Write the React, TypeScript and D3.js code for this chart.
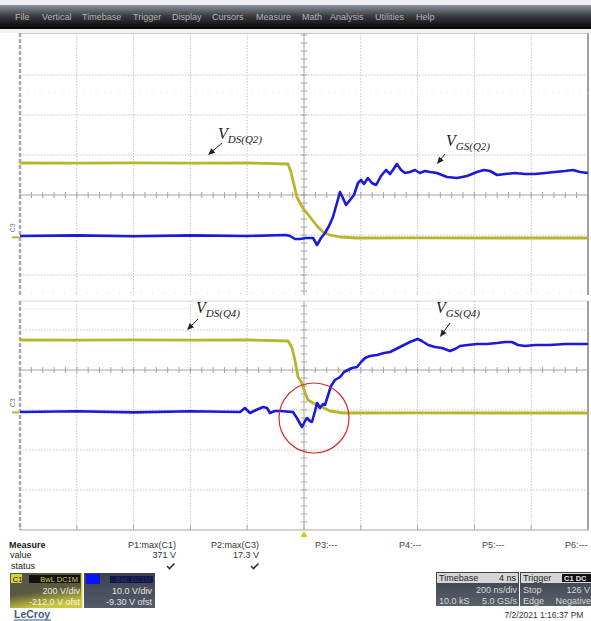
import React from "react";
import * as d3 from "d3";

// ---------- data (time in ns, voltage in V) ----------
const menuItems = ["File", "Vertical", "Timebase", "Trigger", "Display", "Cursors", "Measure", "Math", "Analysis", "Utilities", "Help"];

// Panel 1 : Q2
const q2Vds: [number, number][] = [
  [-1000, 372], [-800, 371], [-600, 373], [-400, 371], [-200, 372], [-56, 367], [-46, 327], [-35, 262], [-25, 202],
  [-14, 172], [-4, 147], [21, 102], [46, 57], [67, 27], [92, 12], [127, 2], [187, -3], [400, -2], [700, -3], [1000, -3],
];
const q2Vgs: [number, number][] = [
  [-1000, -0.95], [-800, -0.8], [-600, -1.0], [-400, -0.8], [-200, -0.95], [-63, -0.7], [-49, -0.95], [-32, -1.7], [-14, -1.7],
  [7, -1.45], [32, -1.45], [46, -3.2], [60, -1.45], [74, -0.2], [88, 1.55], [102, 3.8], [116, 7.3], [127, 10.05],
  [137, 8.55], [148, 6.8], [162, 8.05], [176, 9.3], [190, 12.3], [201, 13.05], [211, 12.05], [225, 13.55], [239, 12.3],
  [254, 11.8], [271, 14.05], [289, 15.55], [303, 14.55], [313, 15.55], [327, 17.05], [342, 15.55], [356, 14.8],
  [373, 15.05], [391, 15.55], [408, 14.8], [426, 15.3], [444, 15.05], [468, 14.8], [504, 13.8], [539, 13.55],
  [574, 14.05], [609, 15.05], [634, 15.55], [655, 15.3], [680, 14.3], [708, 14.55], [743, 14.8], [778, 14.55],
  [813, 14.55], [849, 14.8], [884, 15.05], [919, 15.3], [947, 15.55], [972, 15.05], [1000, 14.8],
];

// Panel 2 : Q4
const q4Vds: [number, number][] = [
  [-1000, 362], [-800, 361], [-600, 363], [-400, 361], [-200, 362], [-56, 357], [-42, 322], [-32, 262], [-21, 177],
  [-7, 147], [4, 97], [14, 62], [32, 47], [63, 27], [92, 7], [137, -3], [400, -2], [700, -3], [1000, -3],
];
const q4Vgs: [number, number][] = [
  [-1000, -1.2], [-800, -1.0], [-600, -1.3], [-400, -1.0], [-225, -1.2], [-208, -0.2], [-190, -1.45], [-169, -0.7],
  [-144, 0.05], [-130, -0.2], [-120, -1.45], [-102, -0.95], [-85, -0.95], [-39, -1.2], [-25, -2.7], [-7, -4.95],
  [4, -3.45], [11, -2.7], [21, -3.45], [28, -3.7], [39, -0.95], [46, 1.05], [56, -0.2], [67, 0.8], [74, 0.55],
  [85, 3.05], [95, 5.3], [109, 6.8], [127, 7.55], [141, 8.8], [155, 9.3], [169, 9.8], [187, 10.05], [201, 11.3],
  [215, 12.3], [232, 12.8], [257, 13.05], [282, 13.55], [303, 13.8], [324, 14.55], [345, 15.3], [373, 16.3],
  [391, 16.8], [401, 17.05], [415, 16.55], [437, 15.55], [461, 15.05], [486, 14.8], [514, 14.05], [532, 14.55],
  [549, 15.3], [577, 15.55], [609, 15.8], [644, 15.8], [680, 16.05], [708, 16.3], [732, 16.3], [754, 15.55],
  [778, 15.3], [813, 15.55], [866, 15.55], [919, 15.8], [972, 15.8], [1000, 15.8],
];

const measureNames = ["P1:max(C1)", "P2:max(C3)"];
const measureValues = ["371 V", "17.3 V"];
const emptyParams = ["P3:---", "P4:---", "P5:---", "P6:---"];

// ---------- styles ----------
const YELLOW = "#b8b52c";
const BLUE = "#1a1ad8";
const GRID = "#c4c4c4";
const UI = "'Liberation Sans', Arial, sans-serif";
const SERIF = "'Liberation Serif', 'DejaVu Serif', serif";

const X0 = 20, X1 = 588;
const x = d3.scaleLinear().domain([-1000, 1000]).range([X0, X1]);
const DIVX = (X1 - X0) / 10;

function Panel({ id, top, bottom, center, vds, vgs }: any) {
  const yY = d3.scaleLinear().domain([212 - 800, 212 + 800]).range([center + 160, center - 160]);
  const yB = d3.scaleLinear().domain([9.3 - 40, 9.3 + 40]).range([center + 160, center - 160]);
  const lineY = d3.line<[number, number]>().x(d => x(d[0])).y(d => yY(d[1]));
  const lineB = d3.line<[number, number]>().x(d => x(d[0])).y(d => yB(d[1]));
  const hLines: number[] = [];
  for (let k = -4; k <= 4; k++) {
    const yy = center + k * 40;
    if (yy > top + 2 && yy < bottom - 1 && k !== 0) hLines.push(yy);
  }
  const vLines = d3.range(1, 10).map(i => X0 + i * DIVX).filter(v => Math.abs(v - 304) > 1);
  const ticksX = d3.range(0, 51).map(i => X0 + i * DIVX / 5);
  const ticksY = d3.range(-40, 41).map(i => center + i * 8).filter(v => v > top && v < bottom);
  return (
    <g>
      <defs>
        <clipPath id={id}>
          <rect x={X0} y={top} width={X1 - X0} height={bottom - top} />
        </clipPath>
      </defs>
      {vLines.map((v, i) => (
        <line key={"v" + i} x1={v} x2={v} y1={top} y2={bottom} stroke={GRID} strokeWidth={1} strokeDasharray="1.5,1.5" />
      ))}
      {hLines.map((h, i) => (
        <line key={"h" + i} x1={X0} x2={X1} y1={h} y2={h} stroke={GRID} strokeWidth={1} strokeDasharray="1.5,1.5" />
      ))}
      {/* center axes */}
      <line x1={X0} x2={X1} y1={center} y2={center} stroke="#a4a4a4" strokeWidth={1} />
      <line x1={304} x2={304} y1={top} y2={bottom} stroke="#a4a4a4" strokeWidth={1} />
      {ticksX.map((t, i) => (
        <line key={"tx" + i} x1={t} x2={t} y1={center - 3} y2={center + 3} stroke="#a4a4a4" strokeWidth={1} />
      ))}
      {ticksY.map((t, i) => (
        <line key={"ty" + i} x1={301} x2={307} y1={t} y2={t} stroke="#a4a4a4" strokeWidth={1} />
      ))}
      {/* frame */}
      <line x1={X0} x2={X0} y1={top} y2={bottom} stroke="#a8a8a8" strokeWidth={2.5} strokeDasharray="4,2" />
      <line x1={X1} x2={X1} y1={top} y2={bottom} stroke="#a0a0a0" strokeWidth={2} />
      <g clipPath={`url(#${id})`}>
        <path d={lineY(vds) as string} fill="none" stroke={YELLOW} strokeWidth={2.8} strokeLinejoin="round" />
        <path d={lineB(vgs) as string} fill="none" stroke={BLUE} strokeWidth={2.6} strokeLinejoin="round" />
      </g>
      {/* channel markers on left */}
      <text x={0} y={0} transform={`translate(15,${yB(-1) - 4}) rotate(-90)`} fontFamily={UI} fontSize={7} fill="#777">C3</text>
      <line x1={12} x2={19} y1={yY(0)} y2={yY(0)} stroke={YELLOW} strokeWidth={2} />
    </g>
  );
}

function Annot({ x0, y0, sub, ax1, ay1, ax2, ay2 }: any) {
  const ang = Math.atan2(ay2 - ay1, ax2 - ax1);
  const hl = 7, hw = 3;
  const p1 = [ax2 - hl * Math.cos(ang) + hw * Math.sin(ang), ay2 - hl * Math.sin(ang) - hw * Math.cos(ang)];
  const p2 = [ax2 - hl * Math.cos(ang) - hw * Math.sin(ang), ay2 - hl * Math.sin(ang) + hw * Math.cos(ang)];
  return (
    <g>
      <text x={x0} y={y0} fontFamily={SERIF} fontStyle="italic" fontSize={16} fill="#222">
        V<tspan fontSize={11} dy={4}>{sub}</tspan>
      </text>
      <line x1={ax1} y1={ay1} x2={ax2 - 4 * Math.cos(ang)} y2={ay2 - 4 * Math.sin(ang)} stroke="#222" strokeWidth={1} />
      <polygon points={`${ax2},${ay2} ${p1[0]},${p1[1]} ${p2[0]},${p2[1]}`} fill="#222" />
    </g>
  );
}

export default function App() {
  return (
    <svg width={591} height={621} style={{ position: "absolute", left: 0, top: 0, background: "#fff" }}>
      <defs>
        <linearGradient id="menu" x1="0" y1="0" x2="0" y2="1">
          <stop offset="0" stopColor="#8e939c" />
          <stop offset="0.45" stopColor="#3a3c42" />
          <stop offset="1" stopColor="#050505" />
        </linearGradient>
        <linearGradient id="c1box" x1="0" y1="0" x2="0.3" y2="1">
          <stop offset="0" stopColor="#55554a" />
          <stop offset="0.6" stopColor="#5a5a3c" />
          <stop offset="1" stopColor="#c9c640" />
        </linearGradient>
        <linearGradient id="c3box" x1="0" y1="0" x2="0" y2="1">
          <stop offset="0" stopColor="#3c4250" />
          <stop offset="1" stopColor="#545a66" />
        </linearGradient>
        <linearGradient id="dbox" x1="0" y1="0" x2="0" y2="1">
          <stop offset="0" stopColor="#3a3f4a" />
          <stop offset="1" stopColor="#5a606c" />
        </linearGradient>
      </defs>
      <rect x={0} y={0} width={591} height={621} fill="#fff" />
      {/* menu bar */}
      <rect x={0} y={0} width={591} height={5} fill="#eceef0" />
      <rect x={0} y={5} width={591} height={24} fill="url(#menu)" />
      {menuItems.map((m, i) => (
        <text key={m} x={[15, 42, 82, 133, 172, 212, 256, 302, 330, 375, 416][i]} y={20} fontFamily={UI} fontSize={9} fill="#b4b6ba">{m}</text>
      ))}
      <rect x={0} y={29} width={591} height={4} fill="#f2f2f2" />
      <line x1={X0} x2={X1} y1={33.5} y2={33.5} stroke="#c8c8c8" strokeWidth={1} />

      <Panel id="p1" top={33} bottom={295} center={195} vds={q2Vds} vgs={q2Vgs} />
      <line x1={X0} x2={X1} y1={93} y2={93} stroke="#e2e2e2" strokeWidth={1} strokeDasharray="1,6" />
      <line x1={X0} x2={X1} y1={293} y2={293} stroke="#cfcfcf" strokeWidth={1} strokeDasharray="1,10" />
      <rect x={0} y={295} width={591} height={5} fill="#fff" />

      <line x1={X0} x2={X1} y1={301} y2={301} stroke="#d8d8d8" strokeWidth={1} />
      <line x1={X0} x2={X1} y1={309} y2={309} stroke="#e2e2e2" strokeWidth={1} strokeDasharray="1.5,1.5" />
      <Panel id="p2" top={301} bottom={530} center={370} vds={q4Vds} vgs={q4Vgs} />
      <line x1={X0} x2={X1 + 1} y1={530} y2={530} stroke="#a8a8a8" strokeWidth={1.2} />
      {d3.range(0, 11).map(i => (
        <line key={"bt" + i} x1={X0 + i * DIVX} x2={X0 + i * DIVX} y1={525} y2={530} stroke="#a8a8a8" strokeWidth={1} />
      ))}
      <polygon points="304,531 300.5,537 307.5,537" fill="#d8c820" />

      {/* annotations */}
      <Annot x0={218} y0={139} sub="DS(Q2)" ax1={222} ax2={208} ay1={143} ay2={155} />
      <Annot x0={446} y0={146} sub="GS(Q2)" ax1={445} ax2={437} ay1={154} ay2={164} />
      <Annot x0={196} y0={313} sub="DS(Q4)" ax1={198} ax2={187} ay1={319} ay2={330} />
      <Annot x0={436} y0={313} sub="GS(Q4)" ax1={450} ax2={440} ay1={323} ay2={337} />
      <circle cx={314} cy={418} r={35} fill="none" stroke="#d42a2a" strokeWidth={1.2} />

      {/* measure table */}
      <text x={9} y={548} fontFamily={UI} fontSize={9} fontWeight="bold" fill="#222">Measure</text>
      <text x={10} y={558} fontFamily={UI} fontSize={9} fill="#222">value</text>
      <text x={11} y={569} fontFamily={UI} fontSize={9} fill="#222">status</text>
      {measureNames.map((m, i) => (
        <g key={m}>
          <text x={[176, 259][i]} y={548} textAnchor="end" fontFamily={UI} fontSize={9} fill="#333">{m}</text>
          <text x={[176, 259][i]} y={558} textAnchor="end" fontFamily={UI} fontSize={9} fill="#333">{measureValues[i]}</text>
          <path d={`M${[167, 251][i]},566 l2.5,2.5 l5,-5`} fill="none" stroke="#333" strokeWidth={1.6} />
        </g>
      ))}
      {emptyParams.map((p, i) => (
        <text key={p} x={[315, 399, 482, 565][i]} y={548} fontFamily={UI} fontSize={9} fill="#444">{p}</text>
      ))}

      {/* channel descriptor boxes */}
      <rect x={10} y={573} width={72} height={35} fill="url(#c1box)" />
      <rect x={81} y={573} width={1.5} height={35} fill="#d8d040" />
      <rect x={11} y={574} width={11} height={9} fill="#d8d040" />
      <text x={12.5} y={581.5} fontFamily={UI} fontSize={8} fill="#222">C1</text>
      <rect x={29} y={575} width={51} height={8} fill="#111" />
      <text x={78} y={582} textAnchor="end" fontFamily={UI} fontSize={7.5} fill="#d8d040">BwL DC1M</text>
      <text x={80} y={594} textAnchor="end" fontFamily={UI} fontSize={9} fill="#e8e8e8">200 V/div</text>
      <text x={80} y={605} textAnchor="end" fontFamily={UI} fontSize={9} fill="#f4f4e0">-212.0 V ofst</text>

      <rect x={84} y={573} width={71} height={35} fill="url(#c3box)" />
      <rect x={86} y={574} width={14} height={10} fill="#0a14f0" />
      <rect x={110} y={576} width={43} height={7} fill="#101848" />
      <text x={151} y={582} textAnchor="end" fontFamily={UI} fontSize={7} fill="#2a3470">BwL DC1M</text>
      <text x={152} y={594} textAnchor="end" fontFamily={UI} fontSize={9} fill="#e8e8e8">10.0 V/div</text>
      <text x={152} y={605} textAnchor="end" fontFamily={UI} fontSize={9} fill="#e0e0e0">-9.30 V ofst</text>

      <text x={14} y={618} fontFamily={UI} fontSize={10.5} fontWeight="bold" fill="#3f5a86">LeCroy</text>
      <line x1={14} x2={51} y1={620} y2={620} stroke="#3f5a86" strokeWidth={1} />

      {/* timebase box */}
      <rect x={436} y={572} width={83} height={34} fill="url(#dbox)" />
      <rect x={437} y={573} width={81} height={10} fill="#d6d6d6" />
      <text x={439} y={581} fontFamily={UI} fontSize={9} fill="#222">Timebase</text>
      <text x={516} y={581} textAnchor="end" fontFamily={UI} fontSize={9} fill="#222">4 ns</text>
      <text x={517} y={593} textAnchor="end" fontFamily={UI} fontSize={9} fill="#d8d8d8">200 ns/div</text>
      <text x={439} y={604} fontFamily={UI} fontSize={9} fill="#d8d8d8">10.0 kS</text>
      <text x={517} y={604} textAnchor="end" fontFamily={UI} fontSize={9} fill="#d8d8d8">5.0 GS/s</text>

      {/* trigger box */}
      <rect x={520} y={572} width={71} height={34} fill="url(#dbox)" />
      <rect x={521} y={573} width={70} height={10} fill="#d6d6d6" />
      <text x={523} y={581} fontFamily={UI} fontSize={9} fill="#222">Trigger</text>
      <rect x={562} y={574} width={29} height={8} fill="#111" />
      <text x={564} y={581} fontFamily={UI} fontSize={7.5} fontWeight="bold" fill="#e8e8e8">C1 DC</text>
      <text x={523} y={593} fontFamily={UI} fontSize={9} fill="#d8d8d8">Stop</text>
      <text x={590} y={593} textAnchor="end" fontFamily={UI} fontSize={9} fill="#d8d8d8">126 V</text>
      <text x={523} y={604} fontFamily={UI} fontSize={9} fill="#d8d8d8">Edge</text>
      <text x={591} y={604} textAnchor="end" fontFamily={UI} fontSize={9} fill="#d8d8d8">Negative</text>

      <text x={544} y={618} textAnchor="middle" fontFamily={UI} fontSize={8.5} fill="#333">7/2/2021 1:16:37 PM</text>
    </svg>
  );
}
